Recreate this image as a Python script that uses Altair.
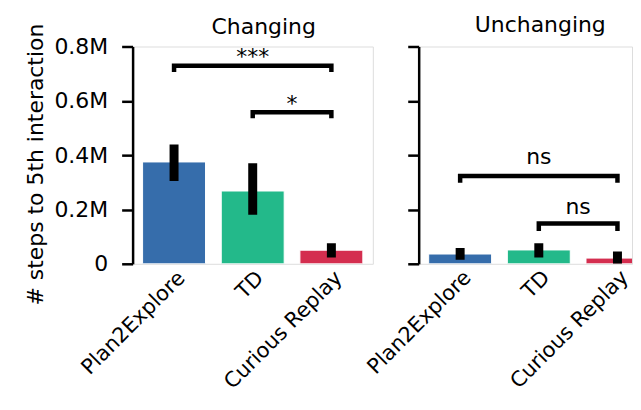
import altair as alt
import pandas as pd

FONT = "DejaVu Sans"
FS = 22
XFS = 21

methods = ["Plan2Explore", "TD", "Curious Replay"]
colors = ["#366DAB", "#23B98A", "#D42E4F"]

chg_mean = [375000, 268000, 50000]
chg_lo = [305000, 181000, 23000]
chg_hi = [439000, 370000, 76000]

unc_mean = [36000, 51000, 21000]
unc_lo = [15000, 23000, 0]
unc_hi = [58000, 76000, 45000]

chg_br_from = ["Plan2Explore", "TD"]
chg_br_to = ["Curious Replay", "Curious Replay"]
chg_br_top = [729000, 558000]
chg_br_low = [706000, 536000]
chg_br_label = ["***", "*"]
chg_br_label_y = [735000, 562000]

unc_br_from = ["Plan2Explore", "TD"]
unc_br_to = ["Curious Replay", "Curious Replay"]
unc_br_top = [323000, 148000]
unc_br_low = [298000, 121000]
unc_br_label = ["ns", "ns"]
unc_br_label_y = [366000, 182000]

y_ticks = [0, 200000, 400000, 600000, 800000]

W = 241
H = 218
PI, PO = 0.2, 0.127
STEP = W / (3 - PI + 2 * PO)
XLAB_PAD = 3


def bars_df(mean, lo, hi):
    return pd.DataFrame({"method": methods, "mean": mean, "lo": lo, "hi": hi})


def bracket_df(frm, to, top, low):
    rows = []
    for k in range(len(frm)):
        pts = [(frm[k], low[k]), (frm[k], top[k]), (to[k], top[k]), (to[k], low[k])]
        for o, (m, v) in enumerate(pts):
            rows.append({"br": k, "ord": o, "method": m, "v": v})
    return pd.DataFrame(rows)


def label_layers(frm, to, labels, ys, xscale):
    layers = []
    for k in range(len(labels)):
        i, j = methods.index(frm[k]), methods.index(to[k])
        mid = (i + j) / 2
        base = methods[int(mid)]
        dx = (mid - int(mid)) * STEP
        df = pd.DataFrame({"method": [base], "v": [ys[k]], "t": [labels[k]]})
        layers.append(
            alt.Chart(df)
            .mark_text(font=FONT, fontSize=FS, baseline="alphabetic", align="center", dx=dx,
                       clip=True, color="black")
            .encode(x=alt.X("method:N", scale=xscale, sort=methods),
                    y=alt.Y("v:Q"), text="t:N")
        )
    return layers


yscale = alt.Scale(domain=[0, 800000], nice=False)
color = alt.Color("method:N", scale=alt.Scale(domain=methods, range=colors), legend=None)


def panel(title, mean, lo, hi, frm, to, top, low, labels, ys, left, width, toff, tdx, xrange=None):
    sargs = dict(domain=methods, paddingInner=PI, paddingOuter=PO)
    if xrange is not None:
        sargs["range"] = xrange
    xscale = alt.Scale(**sargs)
    if left:
        xaxis = alt.Axis(title=None, labelAngle=-45, ticks=False, domain=False,
                         labelPadding=XLAB_PAD, labelFontSize=XFS, labelFont=FONT,
                         labelColor="black")
    else:
        xaxis = None
    xenc = alt.X("method:N", scale=xscale, sort=methods, axis=xaxis)
    common = dict(values=y_ticks, grid=False, tickSize=11, tickWidth=2.5, domainWidth=2.5,
                  domainColor="black", tickColor="black")
    if left:
        yaxis = alt.Axis(title="# steps to 5th interaction",
                         labelExpr="datum.value == 0 ? '0' : format(datum.value / 1000000, '.1f') + 'M'",
                         labelPadding=14, labelFontSize=FS, titleFontSize=FS, labelFont=FONT,
                         titleFont=FONT, titleFontWeight="normal", titlePadding=6, titleY=118,
                         labelColor="black", titleColor="black", **common)
    else:
        yaxis = alt.Axis(title=None, labels=False, **common)
    base = alt.Chart(bars_df(mean, lo, hi))
    bars = base.mark_bar(stroke="white", strokeWidth=1, clip=True).encode(
        x=xenc, y=alt.Y("mean:Q", scale=yscale, axis=yaxis), color=color)
    err = base.mark_rule(color="black", strokeWidth=9, clip=True).encode(
        x=alt.X("method:N", scale=xscale, sort=methods), y="lo:Q", y2="hi:Q")
    br = alt.Chart(bracket_df(frm, to, top, low)).mark_line(
        color="black", strokeWidth=4.5, strokeJoin="miter", strokeCap="butt", clip=True).encode(
        x=alt.X("method:N", scale=xscale, sort=methods), y="v:Q", detail="br:N", order="ord:Q")
    layers = [bars, err, br] + label_layers(frm, to, labels, ys, xscale)
    if not left:
        # category labels drawn as rotated text (axis range would extend past the page)
        layers.append(base.mark_text(font=FONT, fontSize=XFS, angle=315, align="right",
                                     baseline="top", color="black").encode(
            x=alt.X("method:N", scale=xscale, sort=methods), y=alt.value(H + XLAB_PAD),
            text="method:N"))
    return alt.layer(*layers).properties(
        width=width, height=H,
        title=alt.TitleParams(title, font=FONT, fontSize=FS, fontWeight="normal", anchor="middle",
                              baseline="alphabetic", dx=tdx, offset=toff, color="black"))


left = panel("Changing", chg_mean, chg_lo, chg_hi, chg_br_from, chg_br_to, chg_br_top, chg_br_low,
             chg_br_label, chg_br_label_y, True, W, -33, 11)
right = panel("Unchanging", unc_mean, unc_lo, unc_hi, unc_br_from, unc_br_to, unc_br_top, unc_br_low,
              unc_br_label, unc_br_label_y, False, 214, -9, 15, xrange=[0, W])

chart = alt.hconcat(left, right, spacing=46, bounds="flush").configure_view(stroke=None).configure(
    padding={"left": 16, "top": 5, "right": 0, "bottom": 0})

chart.save("out.html", embed_options={"renderer": "svg", "actions": False})
